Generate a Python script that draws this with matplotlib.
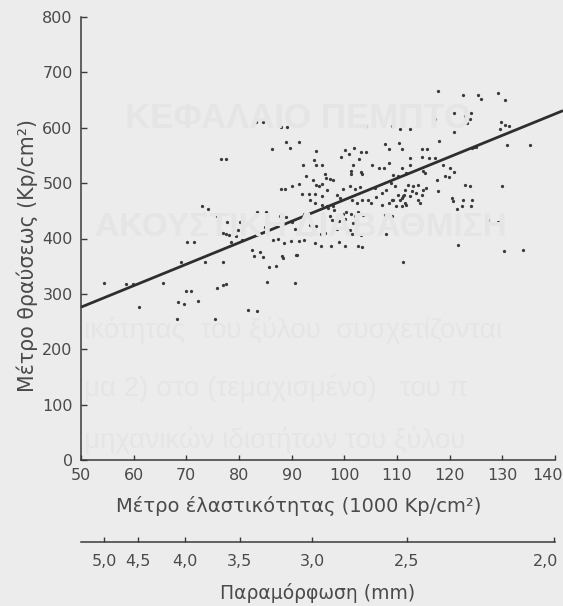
import numpy as np
import matplotlib
matplotlib.use("Agg")
import matplotlib.pyplot as plt
from matplotlib.transforms import ScaledTranslation

plt.rcParams['font.family'] = ['DejaVu Sans']

# Modulus of elasticity of each specimen (1000 Kp/cm²)
elasticity = [
    54.4, 58.5, 59.9, 61.1, 65.5, 68.2, 68.4, 69.6, 72.3, 69.9, 70.9,
    68.9, 73.5, 70.1, 71.5, 75.5, 75.8, 77.0, 77.6, 77.0,
    73.0, 74.2, 73.4, 75.9, 77.8, 80.1, 77.0, 77.6, 78.1, 79.0, 79.8, 79.5, 78.4, 80.5,
    76.5, 77.5, 81.8, 83.4,
    83.2, 84.6, 87.9, 89.2, 88.9, 91.3, 89.6, 86.3,
    104.2, 109.1, 94.6, 100.1, 101.8, 100.8, 103.2, 104.2,
    107.7, 108.5, 99.3, 94.2, 102.8, 92.2, 94.7, 95.8,
    101.6, 105.2, 106.5, 107.6, 101.3, 101.3, 103.2, 103.4,
    97.3, 96.5, 97.9, 95.8, 95.2, 94.7, 94.0, 92.7, 96.3, 91.3,
    88.0, 88.8, 90.0, 92.0, 93.2, 94.4, 95.8, 96.7,
    99.8, 101.0, 102.0, 102.9, 98.7, 99.2, 93.5, 94.4,
    95.8, 96.8, 97.9, 101.4, 102.4, 103.4, 104.5, 105.1, 106.1,
    107.2, 108.4, 109.0, 107.1, 108.0, 105.9,
    83.5, 85.1, 87.8, 88.9, 90.0, 92.4, 93.5, 94.6, 96.0,
    97.3, 97.7, 99.7, 100.4, 101.3, 102.0, 102.5, 103.6,
    99.0, 100.1, 101.7, 107.7, 109.0, 108.0, 103.1, 101.1, 98.7,
    96.3, 95.6, 93.5, 90.6, 84.9, 89.9, 91.3, 92.4, 88.5, 87.5,
    86.5, 94.4, 95.6, 97.5, 99.0, 100.1, 102.6, 103.4, 101.5,
    82.5, 84.0, 82.9, 84.6, 88.2, 91.1, 85.7, 87.0, 85.3, 90.6,
    88.4, 90.8,
    117.8, 122.6, 125.3, 125.9, 129.1, 130.5, 120.8, 123.0, 124.0,
    123.9, 123.2, 117.3, 120.9, 129.7, 130.5, 131.3, 129.6, 118.0,
    130.8, 135.3, 124.7, 110.4, 111.0, 110.6, 112.5, 114.7, 115.7,
    114.7, 116.0, 117.3, 112.5, 110.9, 112.5, 115.3, 115.0,
    118.8, 120.1, 120.9, 119.1, 119.9, 117.5, 112.1, 113.1, 114.0,
    111.5, 112.8, 115.0, 115.6, 117.8, 110.2, 111.2, 114.7,
    110.6, 111.5, 114.0, 123.0, 123.9, 120.4, 120.7, 122.6, 124.2,
    122.3, 124.0, 121.4, 130.0, 127.2, 129.2, 121.6, 130.3, 134.0, 111.2,
    109.3, 110.2, 111.8, 109.3, 109.9, 110.9, 111.3,
    114.4, 113.7, 112.5, 111.8, 110.9,
    108.4, 96.9, 98.0, 108.8, 109.6, 124.2, 125.0,
]

# Modulus of rupture of each specimen (Kp/cm²)
rupture = [
    320, 318, 318, 276, 320, 254, 285, 282, 288, 306, 306,
    357, 357, 393, 393, 255, 310, 316, 318, 357,
    458, 454, 445, 441, 430, 430, 410, 409, 407, 411, 415, 404, 394, 398,
    544, 544, 271, 269,
    611, 611, 602, 602, 575, 575, 563, 562,
    604, 603, 558, 559, 564, 552, 557, 557,
    571, 562, 547, 542, 544, 533, 533, 532,
    532, 532, 528, 528, 521, 517, 520, 516,
    508, 509, 506, 499, 495, 497, 506, 512, 516, 499,
    489, 489, 494, 481, 481, 480, 476, 487,
    489, 495, 489, 493, 479, 474, 470, 465,
    461, 458, 459, 469, 465, 470, 470, 464, 475,
    461, 464, 470, 482, 488, 491,
    447, 447, 441, 438, 429, 444, 425, 423, 444,
    440, 434, 444, 448, 445, 441, 447, 443,
    431, 435, 428, 443, 440, 409, 407, 415, 417,
    410, 409, 409, 417, 420, 395, 395, 398, 391, 399,
    398, 392, 387, 387, 393, 386, 386, 385, 409,
    379, 375, 368, 367, 368, 371, 348, 351, 321, 320,
    365, 370,
    667, 659, 659, 652, 662, 651, 627, 621, 627,
    615, 609, 615, 592, 610, 605, 603, 597, 576,
    568, 568, 565, 573, 562, 598, 597, 562, 562,
    547, 546, 545, 546, 527, 532, 518, 522,
    533, 527, 520, 512, 511, 506, 497, 494, 497,
    488, 485, 488, 491, 485, 479, 476, 479,
    470, 464, 470, 497, 494, 474, 467, 469, 469,
    459, 458, 453, 495, 434, 429, 388, 378, 380, 357,
    515, 512, 518, 470, 458, 473, 479,
    464, 482, 476, 461, 458,
    536, 455, 452, 500, 495, 564, 566,
]

# Regression line, read at the two ends of the elasticity scale
fit_x = [50, 140]
fit_y = [276, 625]

x_ticks = [50, 60, 70, 80, 90, 100, 110, 120, 130, 140]
y_ticks = [0, 100, 200, 300, 400, 500, 600, 700, 800]

# Deflection scale (mm) and where each mark sits on the elasticity scale
deflection_labels = ["5,0", "4,5", "4,0", "3,5", "3,0", "2,5", "2,0"]
deflection_at = [54.4, 60.9, 69.8, 80.1, 93.9, 111.9, 139.8]

paper = '#ececec'
ink = '#3a3a3a'
text_ink = '#4a4a4a'
ghost = '#e5e5e5'

W, H = 563, 606
fig = plt.figure(figsize=(W / 100, H / 100), dpi=100, facecolor=paper)

# Faint print showing through from the other side of the page
fig.text(125 / W, 1 - 118 / H, "ΚΕΦΑΛΑΙΟ ΠΕΜΠΤΟ", fontsize=25, fontweight='bold',
         family='Liberation Sans', color=ghost, ha='left', va='center', zorder=0)
fig.text(95 / W, 1 - 228 / H, "ΑΚΟΥΣΤΙΚΗ ΔΙΑΒΑΘΜΙΣΗ", fontsize=24, fontweight='bold',
         family='Liberation Sans', color=ghost, ha='left', va='center', zorder=0)
fig.text(84 / W, 1 - 330 / H, "ικότητας  του ξύλου  συσχετίζονται", fontsize=20,
         family='Liberation Sans', color=ghost, ha='left', va='center', zorder=0)
fig.text(84 / W, 1 - 388 / H, "μα 2) στο (τεμαχισμένο)   του π", fontsize=20,
         family='Liberation Sans', color=ghost, ha='left', va='center', zorder=0)
fig.text(84 / W, 1 - 440 / H, "μηχανικών ιδιοτήτων του ξύλου", fontsize=20,
         family='Liberation Sans', color=ghost, ha='left', va='center', zorder=0)

ax_left, ax_right, ax_bottom, ax_top = 81, 555, 460, 17
ax = fig.add_axes([ax_left / W, 1 - ax_bottom / H,
                   (ax_right - ax_left) / W, (ax_bottom - ax_top) / H])
ax.set_facecolor('none')

ax.set_xlim(50, 140)
ax.set_ylim(0, 800)

ax.scatter(elasticity, rupture, s=5.5, c=ink, linewidths=0, zorder=3, clip_on=False)

# Regression line, continued to the right edge of the page
slope = (fit_y[1] - fit_y[0]) / (fit_x[1] - fit_x[0])
fig.canvas.draw()
x_edge = ax.transData.inverted().transform((fig.bbox.width, 0))[0]
line_x = np.array([fit_x[0], x_edge])
line_y = fit_y[0] + slope * (line_x - fit_x[0])
ax.plot(line_x, line_y, color='#2e2e2e', lw=2.0, solid_capstyle='butt',
        zorder=4, clip_on=False)

for side in ('top', 'right'):
    ax.spines[side].set_visible(False)
for side in ('left', 'bottom'):
    ax.spines[side].set_color(ink)
    ax.spines[side].set_linewidth(1.1)

ax.set_xticks(x_ticks)
ax.set_yticks(y_ticks)
ax.tick_params(axis='x', direction='in', length=3.5, width=1, color=ink,
               labelsize=11.5, labelcolor=text_ink, pad=6)
ax.tick_params(axis='y', direction='in', length=4.5, width=1, color=ink,
               labelsize=11.5, labelcolor=text_ink, pad=6)

ax.set_xlabel("Μέτρο έλαστικότητας (1000 Kp/cm²)", fontsize=14, color=text_ink)
ax.xaxis.set_label_coords((299 - ax_left) / (ax_right - ax_left),
                          (ax_bottom - 496) / (ax_bottom - ax_top))
ax.set_ylabel("Μέτρο θραύσεως (Kp/cm²)", fontsize=14.8, color=text_ink)
ax.yaxis.set_label_coords((38 - ax_left) / (ax_right - ax_left),
                          (ax_bottom - 255) / (ax_bottom - ax_top))

# Deflection scale beneath the elasticity axis
sec = ax.secondary_xaxis(-(542 - ax_bottom) / (ax_bottom - ax_top))
sec.spines['bottom'].set_color(ink)
sec.spines['bottom'].set_linewidth(1.1)
sec.set_xticks(deflection_at, labels=deflection_labels)
sec.tick_params(axis='x', direction='in', length=3.5, width=1, color=ink,
                labelsize=11.5, labelcolor=text_ink, pad=9)
sec.set_xlabel("Παραμόρφωση (mm)", fontsize=13.5, color=text_ink, labelpad=10)

# Keep the labels at the right end of both scales inside the page
nudge = ScaledTranslation(-8 / 100, 0, fig.dpi_scale_trans)
for lab in (ax.xaxis.get_majorticklabels()[-1], sec.xaxis.get_majorticklabels()[-1]):
    lab.set_transform(lab.get_transform() + nudge)

fig.savefig("out.png", dpi=100, facecolor=paper)
